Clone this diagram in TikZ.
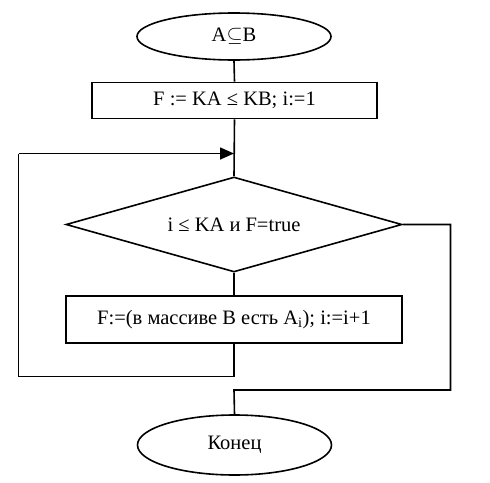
\documentclass[tikz,border=0pt]{standalone}
\usepackage{fontspec}
\setmainfont{Liberation Serif}
\usetikzlibrary{shapes.geometric,arrows.meta}
\begin{document}
\begin{tikzpicture}[x=1pt,y=-1pt,
  every node/.style={font=\fontsize{20.5}{22}\selectfont, inner sep=0pt},
  line/.style={line width=1.6pt},
  term/.style={draw, line width=1.6pt, ellipse, minimum width=194pt},
  procbox/.style={draw, line width=1.6pt, rectangle},
  cond/.style={draw, line width=1.6pt, diamond, aspect=3.57, minimum width=336pt, minimum height=95pt}
]
\useasboundingbox (0,0) rectangle (490,482);
\node[term, minimum height=47pt] (start) at (234,36.5) {A$\subseteq$B};
\node[procbox, minimum width=285pt, minimum height=36pt] (init) at (234.5,100.5) {F := KA ≤ KB; i:=1};
\node[cond] (test) at (234,224.5) {i ≤ KA и F=true};
\node[procbox, minimum width=336pt, minimum height=47pt] (body) at (234,319.5) {F:=(в массиве B есть A\textsubscript{i}); i:=i+1};
\node[term, minimum height=60pt] (stop) at (234.5,445) {Конец};
\coordinate (j) at (234,153.5);
\coordinate (l1) at (234,376.5);
\coordinate (l2) at (18.5,376.5);
\coordinate (l3) at (18.5,153.5);
\coordinate (r1) at (450.5,224.5);
\coordinate (r2) at (450.5,390);
\coordinate (r3) at (234,390);
\draw[line] (start.south) -- (init.north);
\draw[line] (init.south) -- (test.north);
\draw[line] (test.south) -- (body.north);
\draw[line] (body.south) -- (l1) -- (l2) -- (l3);
\draw[line, -{Triangle[length=14pt,width=12pt]}] (l3) -- (j);
\draw[line] (test.east) -- (r1) -- (r2) -- (r3) -- (stop.north);
\end{tikzpicture}
\end{document}
